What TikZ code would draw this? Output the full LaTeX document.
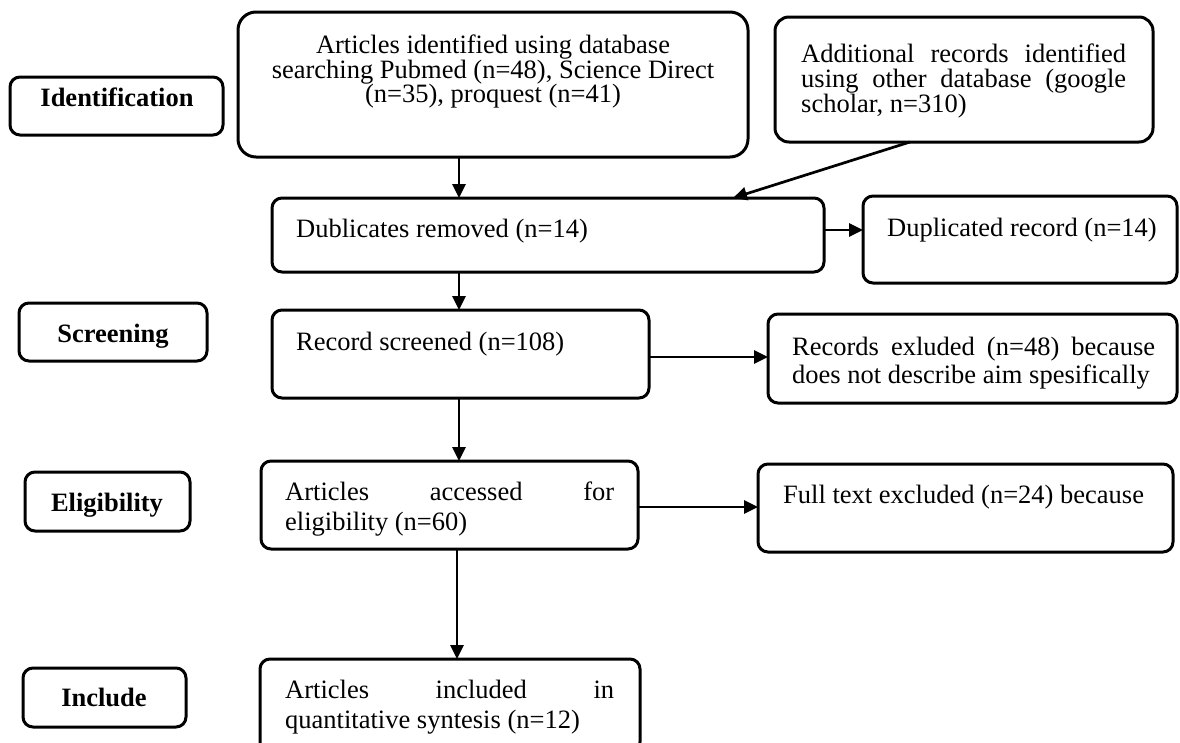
\documentclass[tikz,border=0pt]{standalone}
\usepackage{fontspec}
\setmainfont{Liberation Serif}
\usetikzlibrary{arrows.meta}
\begin{document}
\begin{tikzpicture}[x=1pt,y=-1pt,
  box/.style={draw, line width=3pt, rounded corners=10pt, inner sep=0pt, outer sep=0pt},
  lbl/.style={font=\fontsize{26.5}{28}\selectfont\bfseries, inner sep=0pt},
  txt/.style={font=\fontsize{26.5}{28}\selectfont, inner sep=0pt},
  arr/.style={line width=2.7pt, -{Triangle[length=14pt,width=13pt]}}]
\useasboundingbox (0,0) rectangle (1180,742);
\clip (0,0) rectangle (1180,742);
\fill[white] (0,0) rectangle (1180,742);

% boxes
\node[box, minimum width=213pt, minimum height=58pt] (ident) at (116.5,106) {};
\node[box, rounded corners=18pt, minimum width=510pt, minimum height=145pt] (art) at (493,84.5) {};
\node[box, rounded corners=14pt, minimum width=378pt, minimum height=125pt] (add) at (964,79.5) {};
\node[box, minimum width=552pt, minimum height=74pt] (dub) at (548,235) {};
\node[box, minimum width=314pt, minimum height=87pt] (dupl) at (1020,239.5) {};
\node[box, minimum width=188pt, minimum height=58pt] (scr) at (113,332) {};
\node[box, minimum width=377pt, minimum height=88pt] (rec) at (460.5,354) {};
\node[box, minimum width=409pt, minimum height=89pt] (recx) at (972.5,358.5) {};
\node[box, minimum width=165pt, minimum height=59pt] (elig) at (107.5,501.5) {};
\node[box, minimum width=377pt, minimum height=88pt] (acc) at (449.5,505) {};
\node[box, minimum width=415pt, minimum height=88pt] (ft) at (965.5,508) {};
\node[box, minimum width=163pt, minimum height=59pt] (inc) at (104.5,697.5) {};
\node[box, minimum width=380pt, minimum height=93pt] (incl) at (450,705.5) {};

% texts
\node[lbl, anchor=base] (identt) at (117,106) {Identification};
\node[txt, anchor=base] (art1) at (493,53) {Articles identified using database};
\node[txt, anchor=base] (art2) at (493,78) {searching Pubmed (n=48), Science Direct};
\node[txt, anchor=base] (art3) at (493,102) {(n=35), proquest (n=41)};
\node[txt, anchor=base west] (add1) at (801,62) {\makebox[325pt][s]{Additional records identified}};
\node[txt, anchor=base west] (add2) at (801,87) {\makebox[325pt][s]{using other database (google}};
\node[txt, anchor=base west] (add3) at (801,112) {scholar, n=310)};
\node[txt, anchor=base west] (dubt) at (296,237) {Dublicates removed (n=14)};
\node[txt, anchor=base west] (duplt) at (887,236) {Duplicated record (n=14)};
\node[lbl, anchor=base] (scrt) at (113,342) {Screening};
\node[txt, anchor=base west] (rect) at (296,350) {Record screened (n=108)};
\node[txt, anchor=base west] (recx1) at (792,355) {\makebox[363pt][s]{Records exluded (n=48) because}};
\node[txt, anchor=base west] (recx2) at (792,383) {does not describe aim spesifically};
\node[lbl, anchor=base] (eligt) at (107,511) {Eligibility};
\node[txt, anchor=base west] (acc1) at (285,500) {\makebox[329pt][s]{Articles accessed for}};
\node[txt, anchor=base west] (acc2) at (285,530) {eligibility (n=60)};
\node[txt, anchor=base west] (ftt) at (783,503) {Full text excluded (n=24) because};
\node[lbl, anchor=base] (inct) at (104,706) {Include};
\node[txt, anchor=base west] (incl1) at (285,698) {\makebox[329pt][s]{Articles included in}};
\node[txt, anchor=base west] (incl2) at (285,728) {quantitative syntesis (n=12)};

% connector guides
\coordinate (colA) at (459,0);
\coordinate (colB) at (457,0);
\coordinate (dA) at (910,0);
\coordinate (dB) at (733,0);
\coordinate (r1) at (0,230);
\coordinate (r2) at (0,357);
\coordinate (r3) at (0,507);

% connectors
\draw[arr] (art.south -| colA) -- (dub.north -| colA);
\draw[arr] (add.south -| dA) -- (dub.north -| dB);
\draw[arr] (dub.east |- r1) -- (dupl.west |- r1);
\draw[arr] (dub.south -| colA) -- (rec.north -| colA);
\draw[arr] (rec.east |- r2) -- (recx.west |- r2);
\draw[arr] (rec.south -| colA) -- (acc.north -| colA);
\draw[arr] (acc.east |- r3) -- (ft.west |- r3);
\draw[arr] (acc.south -| colB) -- (incl.north -| colB);
\end{tikzpicture}
\end{document}
